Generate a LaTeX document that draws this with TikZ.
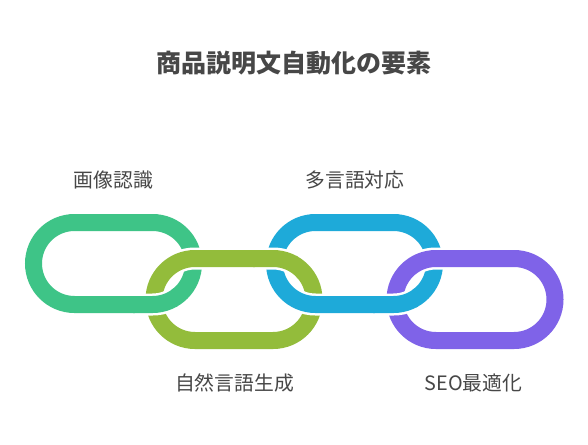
\documentclass[tikz,border=0pt]{standalone}
\usepackage{fontspec}
\setmainfont{Noto Sans CJK JP}
\usetikzlibrary{calc}
\definecolor{cgreen}{HTML}{3EC487}
\definecolor{colive}{HTML}{93BC3B}
\definecolor{cblue}{HTML}{1EAAD9}
\definecolor{cpurple}{HTML}{7F63E8}
\definecolor{ctext}{HTML}{474747}
\tikzset{
  linkwhite/.style={draw=white, line width=22pt, rounded corners=41pt},
  linkcol/.style={draw=#1, line width=17pt, rounded corners=41pt},
  lbl/.style={text=ctext, font=\fontsize{19.8}{22}\selectfont, inner sep=0pt},
  ttl/.style={text=ctext, font=\fontsize{25}{28}\selectfont\bfseries, inner sep=0pt},
}
\newcommand\chainwhite[1]{%
  \path[linkwhite] ($(#1)+(-80,-41)$) rectangle ($(#1)+(80,41)$);}
\newcommand\chaincol[2]{%
  \path[linkcol=#2] ($(#1)+(-80,-41)$) rectangle ($(#1)+(80,41)$);}
\newcommand\chainlink[2]{\chainwhite{#1}\chaincol{#1}{#2}}
\begin{document}
\begin{tikzpicture}[x=1pt,y=-1pt]
\useasboundingbox[fill=white] (0,0) rectangle (588,444);
\coordinate (L1) at (113.5,263.5);
\coordinate (L2) at (234,299.5);
\coordinate (L3) at (354.5,263.5);
\coordinate (L4) at (475,299.5);
\chainlink{L1}{cgreen}
\chainlink{L2}{colive}
\chainlink{L3}{cblue}
\chainlink{L4}{cpurple}
% crossings: upper link bottom bar over lower link arc
\begin{scope}
  \clip (135,290) rectangle (176,324);
  \chainwhite{L1}
\end{scope}
\begin{scope}
  \clip (133,288) rectangle (178,326);
  \chaincol{L1}{cgreen}
\end{scope}
\begin{scope}
  \clip (255,240) rectangle (296,278);
  \chainwhite{L2}
\end{scope}
\begin{scope}
  \clip (253,238) rectangle (298,280);
  \chaincol{L2}{colive}
\end{scope}
\begin{scope}
  \clip (375,290) rectangle (416,324);
  \chainwhite{L3}
\end{scope}
\begin{scope}
  \clip (373,288) rectangle (418,326);
  \chaincol{L3}{cblue}
\end{scope}
\node[ttl] (title) at (293.5,63.5) {商品説明文自動化の要素};
\node[lbl] (t1) at (113.5,180.5) {画像認識};
\node[lbl] (t3) at (355,179.5) {多言語対応};
\node[lbl] (t2) at (234.5,383) {自然言語生成};
\node[lbl] (t4) at (473.5,383) {SEO最適化};
\end{tikzpicture}
\end{document}
